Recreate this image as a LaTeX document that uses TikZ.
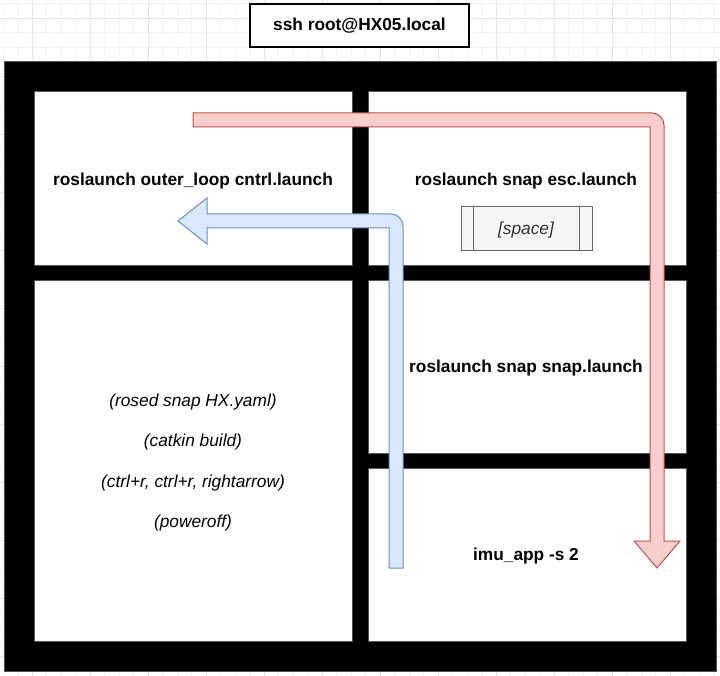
\documentclass[tikz,border=0pt]{standalone}
\usepackage{fontspec}
\setmainfont{Liberation Sans}
\usetikzlibrary{calc}
\definecolor{redfill}{HTML}{F8CECC}
\definecolor{redline}{HTML}{B85450}
\definecolor{bluefill}{HTML}{DAE8FC}
\definecolor{blueline}{HTML}{6C8EBF}
\definecolor{procfill}{HTML}{F5F5F5}
\definecolor{procline}{HTML}{666666}
\definecolor{proctext}{HTML}{333333}
\definecolor{minorg}{HTML}{F3F3F3}
\definecolor{majorg}{HTML}{E6E6E6}
\definecolor{celledge}{HTML}{555555}
\tikzset{
  minorgrid/.style={draw=minorg, line width=0.8pt},
  majorgrid/.style={draw=majorg, line width=1pt},
  cell/.style={fill=white, draw=celledge, line width=0.8pt},
  boldtxt/.style={font=\fontsize{17.3}{20}\selectfont\bfseries, inner sep=0pt},
  itxt/.style={font=\fontsize{17.3}{20}\selectfont\itshape, inner sep=0pt},
  redarrow/.style={fill=redfill, draw=redline, line width=1pt, line join=miter},
  bluearrow/.style={fill=bluefill, draw=blueline, line width=1pt, line join=miter},
  procbox/.style={rectangle, fill=procfill, draw=procline, line width=1pt, minimum width=131pt, minimum height=44pt},
  proctxt/.style={font=\fontsize{17.3}{20}\selectfont\itshape, text=proctext, inner sep=0pt},
  sshbox/.style={rectangle, fill=white, draw=black, line width=1.4pt, minimum width=219pt, minimum height=43pt, font=\fontsize{17.3}{20}\selectfont\bfseries}
}
\begin{document}
\begin{tikzpicture}[x=1pt,y=-1pt]
\useasboundingbox (0,0) rectangle (720,676);
% background grid
\foreach \i in {0,...,52} {
  \draw[minorgrid] ({-25.7+14.5*\i},0) -- ({-25.7+14.5*\i},676);
}
\foreach \i in {0,...,48} {
  \draw[minorgrid] (0,{-10.7+14.5*\i}) -- (720,{-10.7+14.5*\i});
}
\foreach \i in {0,...,13} {
  \draw[majorgrid] ({-25.7+58*\i},0) -- ({-25.7+58*\i},676);
  \draw[majorgrid] (0,{-39.7+58*\i}) -- (720,{-39.7+58*\i});
}
% title box
\node[sshbox] (ssh) at (359.5,25.5) {ssh root@HX05.local};
% black frame
\fill[black] (4,61) rectangle (716,671);
\draw[celledge, line width=0.8pt] (4,61) rectangle (716,671);
% cells
\draw[cell] (34,91) rectangle (352,265);
\draw[cell] (368,91) rectangle (686,265);
\draw[cell] (34,280) rectangle (352,641);
\draw[cell] (368,280) rectangle (686,453);
\draw[cell] (368,468) rectangle (686,641);
% texts
\node[boldtxt] (t1) at (193,181) {roslaunch outer\_loop cntrl.launch};
\node[boldtxt] (t2) at (526,181) {roslaunch snap esc.launch};
\node[boldtxt] (t3) at (526,368) {roslaunch snap snap.launch};
\node[boldtxt] (t4) at (526,556) {imu\_app -s 2};
\node[itxt] (l1) at (193,402) {(rosed snap HX.yaml)};
\node[itxt] (l2) at (193,442) {(catkin build)};
\node[itxt] (l3) at (193,483) {(ctrl+r, ctrl+r, rightarrow)};
\node[itxt] (l4) at (193,523) {(poweroff)};
% process box
\node[procbox] (sp) at (526.5,229) {};
\draw[procline, line width=1pt] ($(sp.north west)+(13,0)$) -- ($(sp.south west)+(13,0)$);
\draw[procline, line width=1pt] ($(sp.north east)+(-13,0)$) -- ($(sp.south east)+(-13,0)$);
\node[proctxt] (spt) at (526,230.5) {[space]};
% red flow arrow
\draw[redarrow] (193,113) -- (652,113) .. controls (658.6,113) and (664,118.4) .. (664,125)
  -- (664,541) -- (680,541) -- (657,568) -- (634,541) -- (650,541) -- (650,127) -- (193,127) -- cycle;
% blue flow arrow
\draw[bluearrow] (389,568) -- (389,228) -- (207,228) -- (207,244) -- (178,221) -- (207,198) -- (207,214)
  -- (391,214) .. controls (397.6,214) and (403,219.4) .. (403,226) -- (403,568) -- cycle;
\end{tikzpicture}
\end{document}
